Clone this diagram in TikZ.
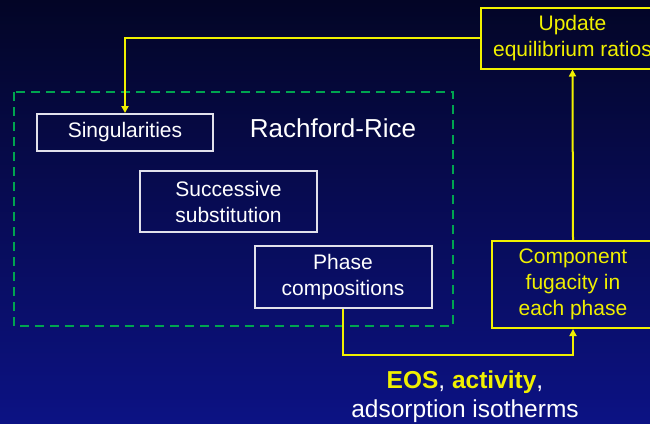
\documentclass[tikz,border=0pt]{standalone}
\usepackage{fontspec}
\setmainfont{Liberation Sans}
\usetikzlibrary{arrows.meta}
\definecolor{bgtop}{RGB}{3,5,38}
\definecolor{bgbot}{RGB}{12,18,132}
\definecolor{yel}{RGB}{240,240,0}
\definecolor{wbox}{RGB}{225,225,235}
\definecolor{grn}{RGB}{0,165,80}
\tikzset{
  wbox/.style={draw=wbox, line width=2pt, text=white, align=center, inner sep=0pt,
    font=\fontsize{21}{26}\selectfont},
  ybox/.style={draw=yel, line width=2pt, text=yel, align=center, inner sep=0pt,
    font=\fontsize{21}{25.7}\selectfont},
  yline/.style={draw=yel, line width=2pt, -{Triangle[width=7pt,length=7pt]}},
  rrbox/.style={draw=grn, line width=2pt, dash pattern=on 9pt off 6pt}
}
\begin{document}
\begin{tikzpicture}[x=1pt,y=-1pt]
\useasboundingbox (0,0) rectangle (650,423);
\shade[top color=bgtop, bottom color=bgbot] (0,0) rectangle (650,423);
\draw[rrbox] (14,92) rectangle (453,326);
\node[wbox, minimum width=176pt, minimum height=37pt] (sing) at (125,132.5) {Singularities};
\node[wbox, minimum width=177pt, minimum height=61pt] (succ) at (228.5,201.5) {Successive\\substitution};
\node[wbox, minimum width=177pt, minimum height=62pt] (phase) at (343,277) {Phase\\compositions};
\node[text=white, font=\fontsize{26}{30}\selectfont, inner sep=0pt] (rr) at (333,128) {Rachford-Rice};
\node[ybox, minimum width=183pt, minimum height=61pt] (upd) at (572.5,38) {Update\\equilibrium ratios};
\node[ybox, minimum width=162pt, minimum height=87pt] (comp) at (573,284.5) {Component\\fugacity in\\each phase};
\node[text=white, align=center, inner sep=0pt, font=\fontsize{24.5}{29}\selectfont] (eos) at (465,397)
  {\textcolor{yel}{\textbf{EOS}}, \textcolor{yel}{\textbf{activity}},\\adsorption isotherms};
\coordinate (j) at (573,355);
\draw[yline] (upd.west) -| (sing.north);
\draw[yline] (phase.south) |- (j) -- (comp.south);
\draw[yline] (comp.north) -- (upd.south);
\end{tikzpicture}
\end{document}
